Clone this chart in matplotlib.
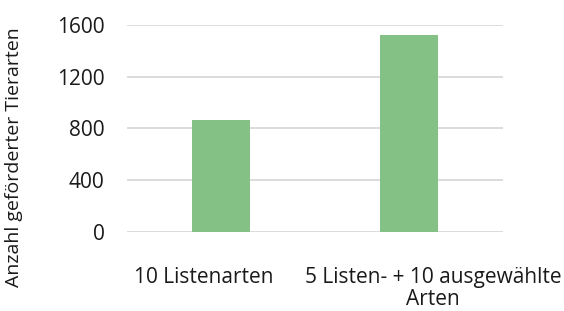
import matplotlib.pyplot as plt
from matplotlib.transforms import ScaledTranslation

categories = ["10 Listenarten", "5 Listen- + 10 ausgewählte\nArten"]
values = [865, 1520]
yticks = [0, 400, 800, 1200, 1600]

plt.rcParams['font.family'] = ['Open Sans', 'DejaVu Sans']
text_color = "#1a1a1a"

fig = plt.figure(figsize=(5.64, 3.11), dpi=100)
ax = fig.add_axes([0.225, 0.254, 0.667, 0.666])

x = range(len(categories))
ax.bar(x, values, width=0.31, color="#83C184", zorder=3)

ax.set_xlim(-0.5, 1.5)
ax.set_ylim(0, 1600)
ax.set_yticks(yticks)
ax.set_xticks(list(x))
ax.set_xticklabels(categories, fontsize=15, color=text_color, linespacing=1.1)
ax.tick_params(axis='y', labelsize=15, labelcolor=text_color, length=0, pad=16)
ax.tick_params(axis='x', length=0, pad=25)

# Excel nudges the labels sideways so they do not collide
shifts = [-0.17, 0.24]
for lbl, dx in zip(ax.get_xticklabels(), shifts):
    lbl.set_transform(lbl.get_transform() + ScaledTranslation(dx, 0, fig.dpi_scale_trans))

ax.grid(axis='y', color="#D9D9D9", linewidth=1.3, zorder=0)
for s in ax.spines.values():
    s.set_visible(False)

ax.set_ylabel("Anzahl geförderter Tierarten", fontsize=14, color=text_color)
ax.yaxis.set_label_coords(-0.275, 0.36)

fig.savefig("out.png", dpi=100)
